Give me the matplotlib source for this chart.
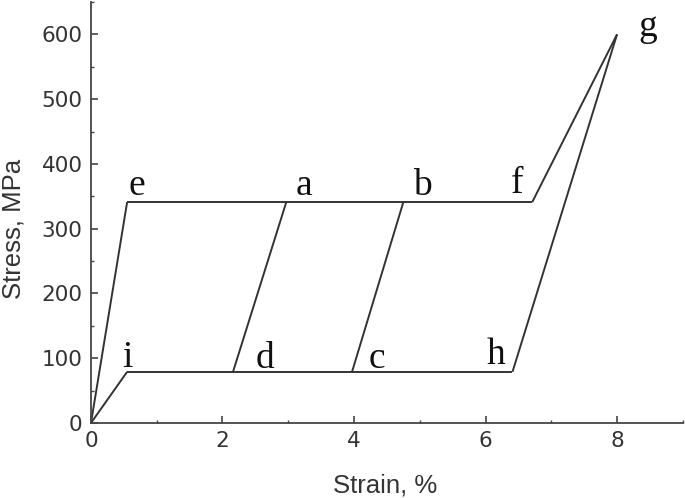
import matplotlib
matplotlib.use("Agg")
import matplotlib.pyplot as plt
from matplotlib.ticker import MultipleLocator

# Key points (strain %, stress MPa)
point_names = ["o", "e", "a", "b", "f", "g", "h", "c", "d", "i"]
strain = [0.0, 0.55, 2.97, 4.75, 6.71, 8.0, 6.41, 3.97, 2.16, 0.55]
stress = [0, 341, 341, 341, 341, 600, 79, 79, 79, 79]

# Segments connecting the named points
segments = [("o", "e"), ("e", "f"), ("f", "g"), ("g", "h"), ("h", "i"),
            ("i", "o"), ("a", "d"), ("b", "c")]

# Letter labels and their positions
label_names = ["e", "a", "b", "f", "g", "i", "d", "c", "h"]
label_x = [0.70, 3.24, 5.04, 6.48, 8.46, 0.55, 2.65, 4.35, 6.16]
label_y = [352, 352, 352, 355, 598, 87, 85, 85, 91]

pts = dict(zip(point_names, zip(strain, stress)))

fig = plt.figure(figsize=(6.85, 4.98), dpi=100)
ax = fig.add_axes([0.1328, 0.1506, 0.864, 0.8454])

line_col = "#333333"
for p, q in segments:
    ax.plot([pts[p][0], pts[q][0]], [pts[p][1], pts[q][1]],
            color=line_col, lw=1.4, solid_capstyle="butt")

for name, x, y in zip(label_names, label_x, label_y):
    ax.text(x, y, name, ha="center", va="baseline",
            family="Liberation Serif", fontsize=27, color="#111111")

ax.set_xlim(0, 9)
ax.set_ylim(0, 650)
ax.xaxis.set_major_locator(MultipleLocator(2))
ax.xaxis.set_minor_locator(MultipleLocator(1))
ax.yaxis.set_major_locator(MultipleLocator(100))
ax.yaxis.set_minor_locator(MultipleLocator(50))
for s in ["top", "right"]:
    ax.spines[s].set_visible(False)
for s in ["left", "bottom"]:
    ax.spines[s].set_color("#444444")
    ax.spines[s].set_linewidth(1.3)
ax.tick_params(which="major", direction="in", length=5, width=1.2,
               color="#444444", labelsize=15.5, labelcolor="#333333")
ax.tick_params(axis="y", which="major", pad=6)
ax.tick_params(axis="x", which="major", pad=6)
ax.tick_params(which="minor", direction="in", length=2.5, width=1.0,
               color="#444444")
for lab in ax.get_xticklabels() + ax.get_yticklabels():
    lab.set_family("DejaVu Sans")

ax.set_xlabel("Strain, %", family="Liberation Sans", fontsize=18.5,
              color="#333333")
ax.set_ylabel("Stress, MPa", family="Liberation Sans", fontsize=18.5,
              color="#333333")
ax.xaxis.set_label_coords(0.0 + (385 - 91) / 592.0, -(492 - 423) / 421.0)
ax.yaxis.set_label_coords(-(91 - 2) / 592.0, (423 - 229) / 421.0)
ax.xaxis.label.set_va("baseline")
ax.yaxis.label.set_va("top")

fig.savefig("out.png", dpi=100)
